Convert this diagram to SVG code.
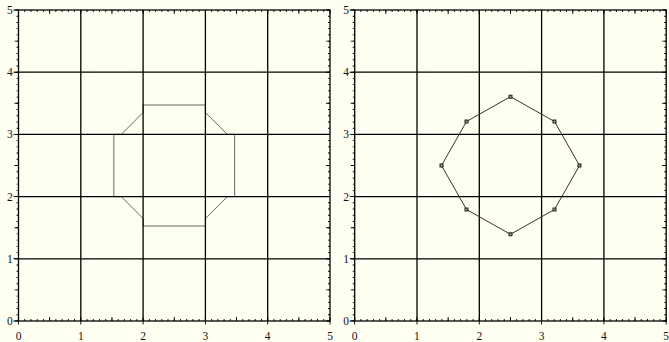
<svg xmlns="http://www.w3.org/2000/svg" xmlns:xlink="http://www.w3.org/1999/xlink" width="669" height="342" viewBox="0 0 669 342">
<style>
.g{stroke:#000;stroke-width:1.3;fill:none}
.tk{stroke:#000;fill:none}
.lbl{font-family:"Liberation Serif","Times New Roman",serif;font-size:11.5px;fill:#111}
.oct1{fill:none;stroke:#666;stroke-width:1}
.oct2{fill:none;stroke:#333;stroke-width:1}
.mk{fill:#999;stroke:#111;stroke-width:0.9}
</style>
<defs>
<g id="frame">
<g class="tk">
<line x1="18.05" y1="11" x2="330.5" y2="11" stroke-width="2" stroke-dasharray="0.9 5.33"/>
<line x1="18.05" y1="12" x2="330.5" y2="12" stroke-width="4" stroke-dasharray="0.9 30.25"/>
<line x1="18.05" y1="320" x2="330.5" y2="320" stroke-width="2" stroke-dasharray="0.9 5.33"/>
<line x1="18.05" y1="319" x2="330.5" y2="319" stroke-width="4" stroke-dasharray="0.9 30.25"/>
<line x1="18.05" y1="322.8" x2="330.5" y2="322.8" stroke-width="3.6" stroke-dasharray="0.9 61.4"/>
<line x1="17.5" y1="321.45" x2="17.5" y2="9.5" stroke-width="2" stroke-dasharray="0.9 5.32"/>
<line x1="16.5" y1="321.45" x2="16.5" y2="9.5" stroke-width="4" stroke-dasharray="0.9 30.2"/>
<line x1="16" y1="321.45" x2="16" y2="9.5" stroke-width="5" stroke-dasharray="0.9 61.3"/>
<line x1="329" y1="321.45" x2="329" y2="9.5" stroke-width="2" stroke-dasharray="0.9 5.32"/>
<line x1="328" y1="321.45" x2="328" y2="9.5" stroke-width="4" stroke-dasharray="0.9 30.2"/>
</g>
<path class="g" d="M80.8 10V321M143.1 10V321M205.4 10V321M267.7 10V321M18.5 72.2H330M18.5 134.4H330M18.5 196.6H330M18.5 258.8H330"/>
<rect class="g" x="18.5" y="10" width="311.5" height="311"/>
<g class="lbl" text-anchor="end">
<text x="12.8" y="325">0</text>
<text x="12.8" y="262.8">1</text>
<text x="12.8" y="200.6">2</text>
<text x="12.8" y="138.4">3</text>
<text x="12.8" y="76.2">4</text>
<text x="12.8" y="14">5</text>
</g>
<g class="lbl" text-anchor="middle">
<text x="18.5" y="339.5">0</text>
<text x="80.8" y="339.5">1</text>
<text x="143.1" y="339.5">2</text>
<text x="205.4" y="339.5">3</text>
<text x="267.7" y="339.5">4</text>
<text x="330" y="339.5">5</text>
</g>
</g>
</defs>
<rect width="669" height="342" fill="#fffff2"/>
<g id="plot-left">
<polygon class="oct1" points="143.1,105 205.4,105 205.4,112.5 227.25,134.35 234.65,134.35 234.65,196.65 227.25,196.65 205.4,218.5 205.4,226 143.1,226 143.1,218.5 121.25,196.65 113.85,196.65 113.85,134.35 121.25,134.35 143.1,112.5"/>
<use xlink:href="#frame"/>
</g>
<g id="plot-right">
<use xlink:href="#frame" transform="translate(336.2,0)"/>
<polygon class="oct2" points="510.5,96.7 554.5,121.5 579.5,165.5 554.5,209.5 510.5,234.3 466.5,209.5 441.5,165.5 466.5,121.5"/>
<g class="mk">
<rect x="509" y="95.2" width="3" height="3"/>
<rect x="553" y="120" width="3" height="3"/>
<rect x="578" y="164" width="3" height="3"/>
<rect x="553" y="208" width="3" height="3"/>
<rect x="509" y="232.8" width="3" height="3"/>
<rect x="465" y="208" width="3" height="3"/>
<rect x="440" y="164" width="3" height="3"/>
<rect x="465" y="120" width="3" height="3"/>
</g>
</g>
</svg>
